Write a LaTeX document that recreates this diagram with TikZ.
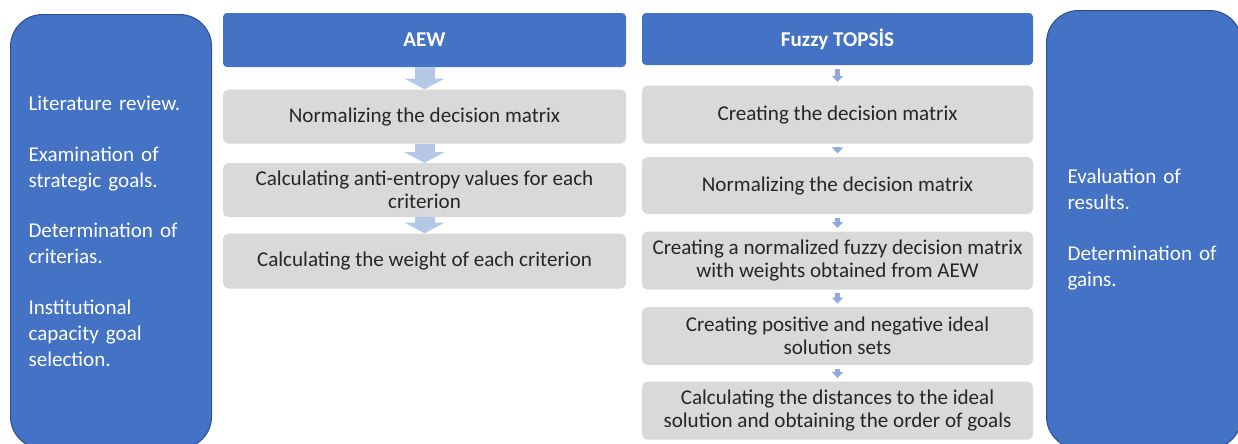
\documentclass[tikz,border=0pt]{standalone}
\usepackage{fontspec}
\setmainfont{Carlito}
\definecolor{pptblue}{HTML}{4472C4}
\definecolor{pptdarkblue}{HTML}{2F528F}
\definecolor{pptgray}{HTML}{D9D9D9}
\definecolor{arrowblue}{HTML}{B4C7E7}
\definecolor{arrowmid}{HTML}{8FAADC}
\usetikzlibrary{arrows.meta,positioning}

\begin{document}
\begin{tikzpicture}[
  x=0.75pt, y=-0.75pt,
  side/.style={draw=pptdarkblue, line width=0.8pt, fill=pptblue, rounded corners=24pt,
    text=white, align=left, anchor=north west, font=\fontsize{15.8pt}{19.7pt}\selectfont},
  head/.style={fill=pptblue, rounded corners=3pt, text=white, minimum width=#1,
    font=\fontsize{15.8pt}{17.25pt}\selectfont\bfseries},
  graybox/.style={fill=pptgray, rounded corners=4pt, align=center, minimum width=#1,
    font=\fontsize{15.8pt}{17.25pt}\selectfont, text=black!85},
  bigarr/.style={-{Triangle[width=30pt,length=8pt,line width=0pt]}, line width=15pt, arrowblue},
  smallarr/.style={-{Triangle[width=8.5pt,length=4.5pt,line width=0pt]}, line width=4pt, arrowmid,
    shorten <=2.5pt, shorten >=2.5pt},
  node distance=12pt
]
  \useasboundingbox (0,0) rectangle (1238,443);

  % Left: preparation
  \node[side, minimum width=150.75pt, minimum height=325.5pt, inner xsep=13.5pt, text width=123.75pt] (prep) at (10,14)
    {Literature review.\\[18pt]Examination of\\strategic goals.\\[18pt]Determination of\\criterias.\\[18pt]Institutional\\capacity goal\\selection.};

  % AEW column
  \node[head=302.25pt, minimum height=40.5pt] (aew) at (424.5,40) {AEW};
  \node[graybox=302.25pt, minimum height=40.5pt, below=16.5pt of aew] (aew1)
    {Normalizing the decision matrix};
  \node[graybox=302.25pt, minimum height=40.5pt, below=14.25pt of aew1] (aew2)
    {Calculating anti-entropy values for each\\criterion};
  \node[graybox=302.25pt, minimum height=41.25pt, below=12pt of aew2] (aew3)
    {Calculating the weight of each criterion};

  % Fuzzy TOPSIS column
  \node[head=293.25pt, minimum height=39pt] (fuz) at (837.5,39) {Fuzzy TOPSİS};
  \node[graybox=293.25pt, minimum height=43.5pt, below=15pt of fuz] (fuz1)
    {Creating the decision matrix};
  \node[graybox=293.25pt, minimum height=42.75pt, below=9.75pt of fuz1] (fuz2)
    {Normalizing the decision matrix};
  \node[graybox=293.25pt, minimum height=43.5pt, below=12.75pt of fuz2] (fuz3)
    {Creating a normalized fuzzy decision matrix\\with weights obtained from AEW};
  \node[graybox=293.25pt, minimum height=43.5pt, below=12.75pt of fuz3] (fuz4)
    {Creating positive and negative ideal\\solution sets};
  \node[graybox=293.25pt, minimum height=43.5pt, below=12pt of fuz4] (fuz5)
    {Calculating the distances to the ideal\\solution and obtaining the order of goals};

  % Right: outcome
  \node[side, minimum width=146.25pt, minimum height=328.5pt, inner xsep=15.75pt, text width=114.75pt] (eval) at (1046,10)
    {Evaluation of\\results.\\[18pt]Determination of\\gains.};

  % Arrows
  \draw[bigarr] (aew) -- (aew1);
  \draw[bigarr] (aew1) -- (aew2);
  \draw[bigarr] (aew2) -- (aew3);
  \draw[smallarr] (fuz) -- (fuz1);
  \draw[smallarr] (fuz1) -- (fuz2);
  \draw[smallarr] (fuz2) -- (fuz3);
  \draw[smallarr] (fuz3) -- (fuz4);
  \draw[smallarr] (fuz4) -- (fuz5);
\end{tikzpicture}
\end{document}
